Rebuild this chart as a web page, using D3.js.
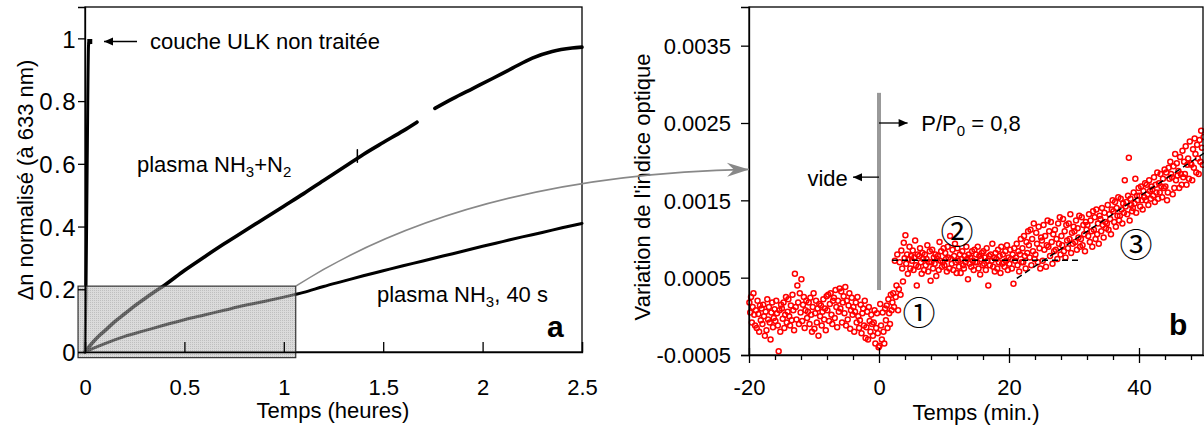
<!DOCTYPE html>
<html><head><meta charset="utf-8">
<script src="https://cdn.jsdelivr.net/npm/d3@7"></script>
<style>
html,body{margin:0;padding:0;background:#fff;}
svg{display:block;font-family:"Liberation Sans",Arial,sans-serif;}
</style></head>
<body><svg id="c" width="1204" height="429"></svg>
<script>
// ---------- Panel a data (time in hours, normalised Δn) ----------
const aTicksX = [0, 0.5, 1, 1.5, 2, 2.5];
const aTickLabelsX = ["0", "0.5", "1", "1.5", "2", "2.5"];
const aTicksY = [0, 0.2, 0.4, 0.6, 0.8, 1];
const aTickLabelsY = ["0", "0.2", "0.4", "0.6", "0.8", "1"];

const ulkTime = [0, 0.005, 0.011, 0.018, 0.024];
const ulkValue = [0, 0.2, 0.6, 0.98, 0.99];

const n2Time1 = [0, 0.025, 0.05, 0.075, 0.1, 0.15, 0.2, 0.25, 0.3, 0.35, 0.4, 0.5, 0.6, 0.7, 0.8, 0.9, 1.0, 1.1, 1.2, 1.3, 1.4, 1.5, 1.6, 1.67];
const n2Value1 = [0, 0.02, 0.038, 0.054, 0.068, 0.097, 0.122, 0.147, 0.17, 0.192, 0.213, 0.26, 0.303, 0.345, 0.385, 0.425, 0.465, 0.505, 0.547, 0.588, 0.63, 0.668, 0.705, 0.733];
const n2Time2 = [1.76, 1.85, 1.95, 2.05, 2.15, 2.25, 2.35, 2.45, 2.5];
const n2Value2 = [0.777, 0.808, 0.840, 0.872, 0.905, 0.937, 0.958, 0.969, 0.972];
const n2GlitchTime = [1.37, 1.37];
const n2GlitchValue = [0.605, 0.645];

const nh3Time = [0, 0.05, 0.1, 0.2, 0.3, 0.4, 0.5, 0.6, 0.7, 0.8, 0.9, 1.0, 1.1, 1.2, 1.3, 1.4, 1.5, 1.6, 1.7, 1.8, 1.9, 2.0, 2.1, 2.2, 2.3, 2.4, 2.5];
const nh3Value = [0, 0.014, 0.027, 0.05, 0.068, 0.086, 0.103, 0.118, 0.133, 0.148, 0.161, 0.175, 0.19, 0.209, 0.226, 0.243, 0.259, 0.275, 0.29, 0.306, 0.321, 0.337, 0.352, 0.367, 0.381, 0.396, 0.41];

const zoomBoxX = [-0.035, 1.06];
const zoomBoxY = [-0.018, 0.21];

// ---------- Panel b data (time in minutes, index variation) ----------
const bTicksX = [-20, 0, 20, 40];
const bTickLabelsX = ["-20", "0", "20", "40"];
const bMinorTicksX = [-16, -12, -8, -4, 4, 8, 12, 16, 24, 28, 32, 36, 44, 48];
const bTicksY = [-0.0005, 0.0005, 0.0015, 0.0025, 0.0035];
const bTickLabelsY = ["-0.0005", "0.0005", "0.0015", "0.0025", "0.0035"];

// one row per minute (start minute), 8 readings per minute, values in units of 1e-5
const bUnit = 1e-5;
const bRowMinutes = [-20,-19,-18,-17,-16,-15,-14,-13,-12,-11,-10,-9,-8,-7,-6,-5,-4,-3,-2,-1,0,1,2,3,4,5,6,7,8,9,10,11,12,13,14,15,16,17,18,19,20,21,22,23,24,25,26,27,28,29,30,31,32,33,34,35,36,37,38,39,40,41,42,43,44,45,46,47,48,49];
const bRowValues = [
 [18, 5, 25, -8, 12, 30, 2, -12],
 [8, -15, 20, 3, -20, 14, -5, 10],
 [-10, 15, 0, -25, 6, -18, 22, -4],
 [12, -8, -30, 5, 18, -14, -2, 9],
 [-6, 20, 4, -12, -45, 8, -20, 15],
 [10, -3, 18, -15, 2, 25, -8, 6],
 [22, 0, -12, 14, -5, 28, 8, -18],
 [55, 12, -4, 40, 18, -10, 30, 5],
 [48, -6, 15, 25, -15, 8, 20, -2],
 [6, 18, -10, 24, 2, -20, 12, 30],
 [-16, 4, 20, -8, 10, -25, 16, 0],
 [14, -12, 6, 22, -4, 10, -18, 26],
 [8, 28, -6, 16, 30, 2, -10, 20],
 [24, -2, 34, 12, -14, 20, 6, 36],
 [10, 32, -8, 18, 26, 4, 38, -12],
 [20, -4, 14, 30, -16, 8, 24, 2],
 [12, -20, 6, 18, -8, 25, 0, -15],
 [-5, 15, -22, 4, 10, -12, 20, -28],
 [-14, 6, -30, 12, -6, -20, 2, -10],
 [-25, -8, 8, -35, -15, 4, -22, -40],
 [-38, 16, -12, -30, 5, -20, -35, 10],
 [-5, 14, -15, 22, 4, -10, 28, 8],
 [18, 30, 12, 72, 25, 40, 80, 8],
 [35, 70, 28, 85, 62, 45, 95, 75],
 [105, 68, 80, 55, 74, 90, 62, 78],
 [72, 85, 60, 76, 98, 66, 40, 80],
 [64, 78, 88, 70, 55, 82, 74, 60],
 [80, 66, 74, 92, 58, 70, 84, 46],
 [70, 86, 62, 76, 68, 80, 52, 74],
 [78, 60, 96, 72, 84, 64, 70, 88],
 [66, 82, 74, 58, 90, 76, 62, 104],
 [74, 68, 86, 60, 78, 94, 70, 56],
 [88, 72, 64, 80, 56, 74, 84, 66],
 [62, 78, 70, 90, 74, 48, 80, 68],
 [76, 64, 84, 72, 60, 86, 70, 80],
 [70, 90, 62, 78, 54, 74, 82, 66],
 [84, 68, 76, 60, 88, 72, 40, 78],
 [66, 80, 72, 94, 64, 76, 58, 82],
 [74, 62, 86, 70, 78, 56, 90, 68],
 [80, 70, 64, 84, 72, 92, 60, 76],
 [68, 86, 74, 62, 80, 42, 88, 72],
 [76, 94, 66, 84, 58, 80, 100, 70],
 [88, 70, 104, 78, 62, 96, 82, 110],
 [92, 76, 112, 66, 100, 84, 120, 74],
 [80, 108, 94, 70, 116, 88, 62, 102],
 [98, 72, 118, 86, 104, 64, 92, 124],
 [90, 110, 78, 122, 96, 68, 106, 84],
 [112, 86, 100, 74, 120, 94, 128, 80],
 [104, 92, 126, 84, 110, 76, 118, 98],
 [88, 120, 100, 132, 82, 108, 94, 116],
 [110, 96, 124, 86, 114, 102, 130, 90],
 [100, 128, 92, 118, 106, 84, 122, 112],
 [118, 104, 132, 96, 124, 110, 90, 136],
 [112, 128, 100, 138, 106, 120, 94, 130],
 [126, 110, 140, 118, 102, 134, 122, 114],
 [120, 144, 112, 132, 126, 106, 138, 150],
 [136, 122, 148, 116, 140, 130, 154, 124],
 [130, 152, 138, 120, 146, 134, 176, 142],
 [148, 132, 156, 205, 124, 152, 144, 136],
 [140, 160, 146, 178, 134, 156, 150, 166],
 [156, 142, 168, 150, 138, 162, 154, 172],
 [150, 170, 158, 144, 176, 162, 152, 168],
 [164, 156, 180, 148, 170, 160, 186, 152],
 [172, 160, 184, 168, 154, 178, 166, 190],
 [168, 186, 150, 160, 192, 178, 200, 184],
 [180, 158, 194, 166, 210, 176, 198, 182],
 [188, 166, 206, 184, 170, 214, 180, 200],
 [184, 220, 170, 196, 204, 178, 226, 198],
 [196, 176, 216, 192, 230, 210, 186, 222],
 [204, 184, 228, 200, 240, 218, 196, 232]
];

const plateauTime = [2, 31];
const plateauValue = [0.000726, 0.000726];
const rampTime = [21.2, 50];
const rampValue = [0.00049, 0.00211];

const pumpTime = [0, 0];
const pumpValue = [0.00034, 0.00289];

// ---------- drawing ----------
const svg = d3.select("#c");
const FONT = 22;

const xA = d3.scaleLinear().domain([0, 2.5]).range([85, 582]);
const yA = d3.scaleLinear().domain([0, 1.1]).range([352, 7]);
const xB = d3.scaleLinear().domain([-20, 50]).range([749, 1204]);
const yB = d3.scaleLinear().domain([-0.0005, 0.004]).range([355, 7]);

const defs = svg.append("defs");
const pat = defs.append("pattern").attr("id", "mesh").attr("patternUnits", "userSpaceOnUse")
  .attr("width", 2).attr("height", 2);
pat.append("rect").attr("width", 2).attr("height", 2).attr("fill", "#bdbdbd");
pat.append("rect").attr("width", 1).attr("height", 1).attr("fill", "#8a8a8a");

defs.append("marker").attr("id", "grayHead").attr("markerUnits", "userSpaceOnUse")
  .attr("viewBox", "-24 -10 26 20").attr("refX", 0).attr("refY", 0)
  .attr("markerWidth", 26).attr("markerHeight", 20).attr("orient", "auto")
  .append("path").attr("d", "M0,0 L-22,-7 L-15,0 L-22,7 Z").attr("fill", "#888");
defs.append("marker").attr("id", "blackHead").attr("markerUnits", "userSpaceOnUse")
  .attr("viewBox", "-10 -5 11 10").attr("refX", 0).attr("refY", 0)
  .attr("markerWidth", 11).attr("markerHeight", 10).attr("orient", "auto")
  .append("path").attr("d", "M0,0 L-9,-4 L-9,4 Z").attr("fill", "#000");

// ===== Panel a =====
const gA = svg.append("g");
const line = d3.line().curve(d3.curveMonotoneX);
const lineLin = d3.line();

function drawSeries(g, xs, ys, sx, sy, w, gen) {
  g.append("path")
    .attr("d", (gen || line)(xs.map((x, i) => [sx(x), sy(ys[i])])))
    .attr("fill", "none").attr("stroke", "#000").attr("stroke-width", w)
    .attr("stroke-linejoin", "round").attr("stroke-linecap", "round");
}
drawSeries(gA, ulkTime, ulkValue, xA, yA, 3);
gA.append("rect")
  .attr("x", xA(ulkTime[ulkTime.length - 1]) - 2.5).attr("y", yA(ulkValue[ulkValue.length - 1]) - 2.5)
  .attr("width", 5).attr("height", 5).attr("fill", "#000");
drawSeries(gA, n2Time1, n2Value1, xA, yA, 3.6);
drawSeries(gA, n2Time2, n2Value2, xA, yA, 3.6);
drawSeries(gA, n2GlitchTime, n2GlitchValue, xA, yA, 1.5, lineLin);
drawSeries(gA, nh3Time, nh3Value, xA, yA, 3);

// frame
gA.append("rect").attr("x", xA(0)).attr("y", yA(1.1)).attr("width", xA(2.5) - xA(0))
  .attr("height", yA(0) - yA(1.1)).attr("fill", "none").attr("stroke", "#000").attr("stroke-width", 1.3);

// zoom box
gA.append("rect")
  .attr("x", xA(zoomBoxX[0])).attr("y", yA(zoomBoxY[1]))
  .attr("width", xA(zoomBoxX[1]) - xA(zoomBoxX[0]))
  .attr("height", yA(zoomBoxY[0]) - yA(zoomBoxY[1]))
  .attr("fill", "url(#mesh)").attr("fill-opacity", 0.55)
  .attr("stroke", "#333").attr("stroke-width", 1.2);

// axes a
const axYA = d3.axisLeft(yA).tickValues(aTicksY).tickSize(7).tickFormat((d, i) => aTickLabelsY[i]);
const gyA = gA.append("g").attr("transform", `translate(${xA(0)},0)`).call(axYA);
gyA.select(".domain").attr("stroke-width", 1.3);
gyA.selectAll("line").attr("stroke-width", 1.3);
gyA.selectAll("text").attr("font-size", 24).attr("letter-spacing", 1.5)
  .attr("font-family", "Liberation Sans, Arial").attr("x", -8).attr("dy", "0.36em");

const axXA = d3.axisBottom(xA).tickValues(aTicksX).tickSize(-10).tickFormat((d, i) => aTickLabelsX[i]);
const gxA = gA.append("g").attr("transform", `translate(0,${yA(0)})`).call(axXA);
gxA.select(".domain").attr("stroke-width", 1.3);
gxA.selectAll("line").attr("stroke-width", 1.3);
gxA.selectAll("text").attr("font-size", FONT).attr("font-family", "Liberation Sans, Arial").attr("y", 43).attr("dy", 0);

gA.append("text").attr("transform", "translate(33,180) rotate(-90)").attr("text-anchor", "middle")
  .attr("font-size", FONT).text("Δn normalisé (à 633 nm)");
gA.append("text").attr("x", 333).attr("y", 418).attr("text-anchor", "middle")
  .attr("font-size", FONT).text("Temps (heures)");

// annotations a
gA.append("line").attr("x1", 137).attr("y1", 41.5).attr("x2", 104).attr("y2", 41.5)
  .attr("stroke", "#000").attr("stroke-width", 1.3).attr("marker-end", "url(#blackHead)");
gA.append("text").attr("x", 150).attr("y", 49).attr("font-size", FONT).text("couche ULK non traitée");

const t1 = gA.append("text").attr("x", 137).attr("y", 172).attr("font-size", FONT);
t1.append("tspan").text("plasma NH");
t1.append("tspan").attr("font-size", 15).attr("dy", 5).text("3");
t1.append("tspan").attr("dy", -5).text("+N");
t1.append("tspan").attr("font-size", 15).attr("dy", 5).text("2");

const t2 = gA.append("text").attr("x", 377).attr("y", 302).attr("font-size", FONT);
t2.append("tspan").text("plasma NH");
t2.append("tspan").attr("font-size", 15).attr("dy", 5).text("3");
t2.append("tspan").attr("dy", -5).text(", 40 s");

gA.append("text").attr("x", 547).attr("y", 337).attr("font-size", 30).attr("font-weight", "bold").text("a");

// ===== Panel b =====
const gB = svg.append("g");
const bPoints = [];
bRowMinutes.forEach((m, r) => {
  const row = bRowValues[r];
  row.forEach((v, k) => bPoints.push([m + (k + 0.5) / row.length, v * bUnit]));
});
gB.append("g").selectAll("circle").data(bPoints).join("circle")
  .attr("cx", d => xB(d[0])).attr("cy", d => yB(d[1])).attr("r", 2.5)
  .attr("fill", "none").attr("stroke", "#ff0000").attr("stroke-width", 1.5);

gB.append("path").attr("d", lineLin(plateauTime.map((t, i) => [xB(t), yB(plateauValue[i])])))
  .attr("stroke", "#000").attr("stroke-width", 1.4).attr("stroke-dasharray", "6,4").attr("fill", "none");
gB.append("path").attr("d", lineLin(rampTime.map((t, i) => [xB(t), yB(rampValue[i])])))
  .attr("stroke", "#000").attr("stroke-width", 1.4).attr("stroke-dasharray", "6,4").attr("fill", "none");

gB.append("path").attr("d", lineLin(pumpTime.map((t, i) => [xB(t), yB(pumpValue[i])])))
  .attr("stroke", "#999").attr("stroke-width", 4).attr("fill", "none");

// frame b
gB.append("rect").attr("x", xB(-20)).attr("y", yB(0.004)).attr("width", xB(50) - xB(-20) - 1)
  .attr("height", yB(-0.0005) - yB(0.004)).attr("fill", "none").attr("stroke", "#000").attr("stroke-width", 1.3);

const axYB = d3.axisLeft(yB).tickValues(bTicksY).tickSize(8).tickFormat((d, i) => bTickLabelsY[i]);
const gyB = gB.append("g").attr("transform", `translate(${xB(-20)},0)`).call(axYB);
gyB.select(".domain").attr("stroke-width", 1.3);
gyB.selectAll("line").attr("stroke-width", 1.3);
gyB.selectAll("text").attr("font-size", FONT).attr("font-family", "Liberation Sans, Arial").attr("x", -18).attr("dy", "0.36em");

const axXB = d3.axisBottom(xB).tickValues(bTicksX).tickSizeInner(8).tickSizeOuter(0).tickFormat((d, i) => bTickLabelsX[i]);
const gxB = gB.append("g").attr("transform", `translate(0,${yB(-0.0005)})`).call(axXB);
gxB.select(".domain").attr("stroke-width", 1.3);
gxB.selectAll(".tick line").attr("y1", -7).attr("y2", 8).attr("stroke-width", 1.3);
gxB.selectAll("text").attr("font-size", FONT).attr("font-family", "Liberation Sans, Arial").attr("y", 40).attr("dy", 0);
const axXBm = d3.axisBottom(xB).tickValues(bMinorTicksX).tickSize(5).tickFormat("");
const gxBm = gB.append("g").attr("transform", `translate(0,${yB(-0.0005)})`).call(axXBm);
gxBm.select(".domain").remove();
gxBm.selectAll("line").attr("stroke-width", 1.3);

gB.append("text").attr("transform", "translate(650,187) rotate(-90)").attr("text-anchor", "middle")
  .attr("font-size", FONT).text("Variation de l'indice optique");
gB.append("text").attr("x", 976).attr("y", 420).attr("text-anchor", "middle")
  .attr("font-size", FONT).text("Temps (min.)");

// annotations b
gB.append("line").attr("x1", xB(0)).attr("y1", yB(0.0018)).attr("x2", xB(-4)).attr("y2", yB(0.0018))
  .attr("stroke", "#000").attr("stroke-width", 1.3).attr("marker-end", "url(#blackHead)");
gB.append("text").attr("x", xB(-4.8)).attr("y", 186).attr("text-anchor", "end").attr("font-size", FONT).text("vide");
gB.append("line").attr("x1", xB(0)).attr("y1", yB(0.0025)).attr("x2", xB(4.4)).attr("y2", yB(0.0025))
  .attr("stroke", "#000").attr("stroke-width", 1.3).attr("marker-end", "url(#blackHead)");
const t3 = gB.append("text").attr("x", xB(6.5)).attr("y", 131).attr("font-size", FONT);
t3.append("tspan").text("P/P");
t3.append("tspan").attr("font-size", 15).attr("dy", 5).text("0");
t3.append("tspan").attr("dy", -5).text(" = 0,8");

const circ = [["①", 919, 313], ["②", 957, 232], ["③", 1136, 245]];
circ.forEach(c => {
  gB.append("text").attr("x", c[1]).attr("y", c[2]).attr("text-anchor", "middle").attr("dy", "0.36em")
    .attr("font-family", "Noto Sans CJK JP, DejaVu Sans").attr("font-size", 33).text(c[0]);
});

gB.append("text").attr("x", 1169).attr("y", 335).attr("font-size", 30).attr("font-weight", "bold").text("b");

// connecting arrow (from zoom box corner to panel b axis)
const p0 = [xA(zoomBoxX[1]), yA(zoomBoxY[1])];
const p2 = [xB(-20), yB(0.0019)];
const ctrl = [470, 175];
svg.append("path").attr("d", `M${p0[0]},${p0[1]} Q${ctrl[0]},${ctrl[1]} ${p2[0]},${p2[1]}`)
  .attr("fill", "none").attr("stroke", "#888").attr("stroke-width", 1.6).attr("marker-end", "url(#grayHead)");
</script></body></html>
